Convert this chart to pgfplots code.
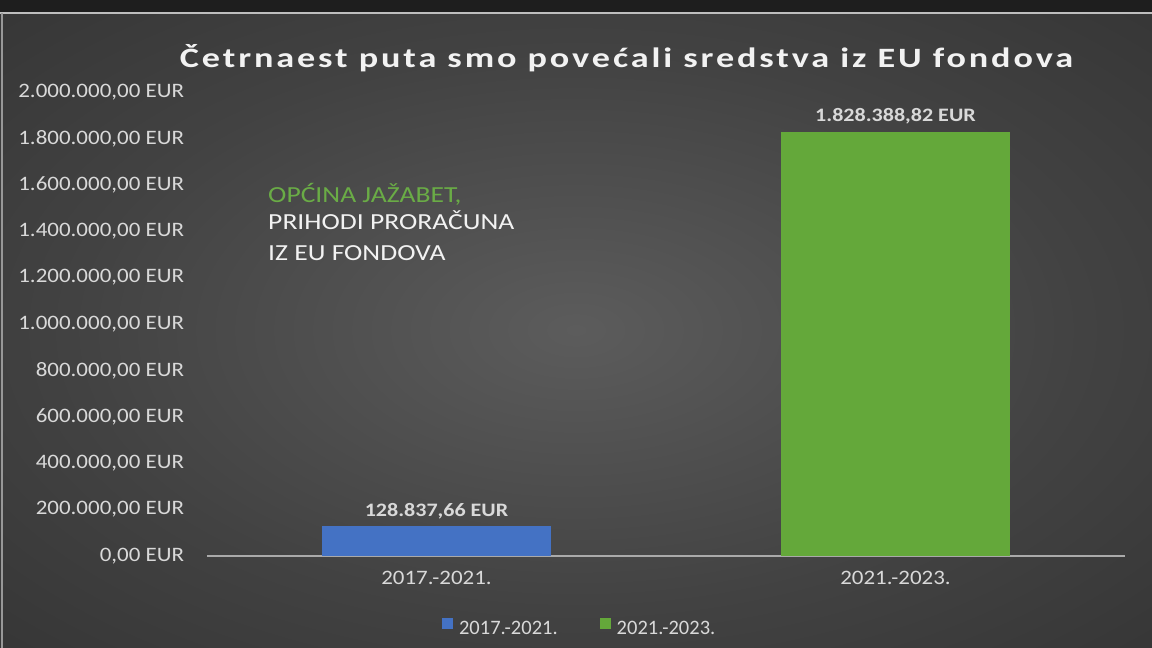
\documentclass[border=0pt]{standalone}
\usepackage{fontspec}
\setmainfont{Carlito}
\newfontfamily\titlefont[LetterSpace=8]{Carlito}
\usepackage{graphicx}
\usepackage{pgfplots}
\pgfplotsset{compat=1.18}
\definecolor{bluebar}{RGB}{68,114,196}
\definecolor{greenbar}{RGB}{100,168,58}
\definecolor{txt}{RGB}{217,217,217}
\definecolor{titlecol}{RGB}{242,242,242}
\definecolor{anngreen}{RGB}{106,172,70}
\definecolor{axisgray}{RGB}{170,170,170}
\definecolor{bgA}{RGB}{92,92,92}
\definecolor{bgB}{RGB}{66,66,66}
\definecolor{bgC}{RGB}{42,42,42}
\definecolor{bgD}{RGB}{32,32,32}
\definecolor{topband}{RGB}{30,30,30}
\definecolor{frameline}{RGB}{190,190,190}
\pgfdeclareradialshading{bgshade}{\pgfpoint{0bp}{0bp}}{color(0bp)=(bgA); color(22bp)=(bgB); color(50bp)=(bgC); color(72bp)=(bgD)}
\begin{document}
\begin{tikzpicture}[x=1pt,y=1pt]
\useasboundingbox (0,0) rectangle (1152,648);
\shade[shading=bgshade] (0,0) rectangle (1152,636);
\fill[topband] (0,636) rectangle (1152,648);
\draw[frameline, line width=1.6pt] (0,635) -- (1152,635);
\draw[frameline!80!black, line width=1.2pt] (2,635) -- (2,0);
\begin{axis}[
  at={(207pt,92pt)}, anchor=south west,
  scale only axis, width=918pt, height=464pt,
  xmin=-0.5, xmax=1.5, ymin=0, ymax=2000000,
  axis x line*=bottom, axis y line*=left,
  y axis line style={draw=none},
  x axis line style={draw=axisgray, line width=1.6pt, -},
  major tick length=0pt,
  scaled y ticks=false,
  xtick={0,1}, xticklabels={2017.-2021.,2021.-2023.},
  ytick={0,200000,400000,600000,800000,1000000,1200000,1400000,1600000,1800000,2000000},
  yticklabels={{0,00 EUR},{200.000,00 EUR},{400.000,00 EUR},{600.000,00 EUR},{800.000,00 EUR},{1.000.000,00 EUR},{1.200.000,00 EUR},{1.400.000,00 EUR},{1.600.000,00 EUR},{1.800.000,00 EUR},{2.000.000,00 EUR}},
  tick label style={font=\fontsize{20.5}{24}\selectfont, text=txt, xscale=1.12},
  yticklabel style={xshift=-17pt},
  xticklabel style={yshift=-12pt},
  ybar, bar width=0.5, bar shift=0pt,
  nodes near coords, point meta=explicit symbolic,
  nodes near coords style={font=\bfseries\fontsize{19}{22}\selectfont, text=txt, anchor=south, yshift=4pt, xscale=1.16},
  legend style={at={(0.406,-0.155)}, anchor=center, draw=none, fill=none,
    legend columns=2, font=\fontsize{20.5}{24}\selectfont, text=txt,
    /tikz/every odd column/.append style={column sep=4pt},
    /tikz/every even column/.append style={column sep=40pt}},
  legend image code/.code={\fill[#1] (0pt,-1pt) rectangle (11pt,10pt);},
]
\addplot[fill=bluebar, draw=none] coordinates {(0,128837.66) [128.837,66 EUR]};
\addplot[fill=greenbar, draw=none] coordinates {(1,1828388.82) [1.828.388,82 EUR]};
\legend{2017.-2021.,2021.-2023.}
\end{axis}
\node[anchor=base, text=titlecol, inner sep=0pt] at (626.5,580) {\resizebox{893pt}{\height}{\titlefont\bfseries\fontsize{28}{32}\selectfont Četrnaest puta smo povećali sredstva iz EU fondova}};
\node[anchor=base west, inner sep=0pt, text=anngreen, xscale=1.2, font=\fontsize{23}{26}\selectfont] at (268,445) {OPĆINA JAŽABET,};
\node[anchor=base west, inner sep=0pt, text=titlecol, xscale=1.2, font=\fontsize{23}{26}\selectfont] at (268,418) {PRIHODI PRORAČUNA};
\node[anchor=base west, inner sep=0pt, text=titlecol, xscale=1.2, font=\fontsize{23}{26}\selectfont] at (268,387) {IZ EU FONDOVA};
\end{tikzpicture}
\end{document}
